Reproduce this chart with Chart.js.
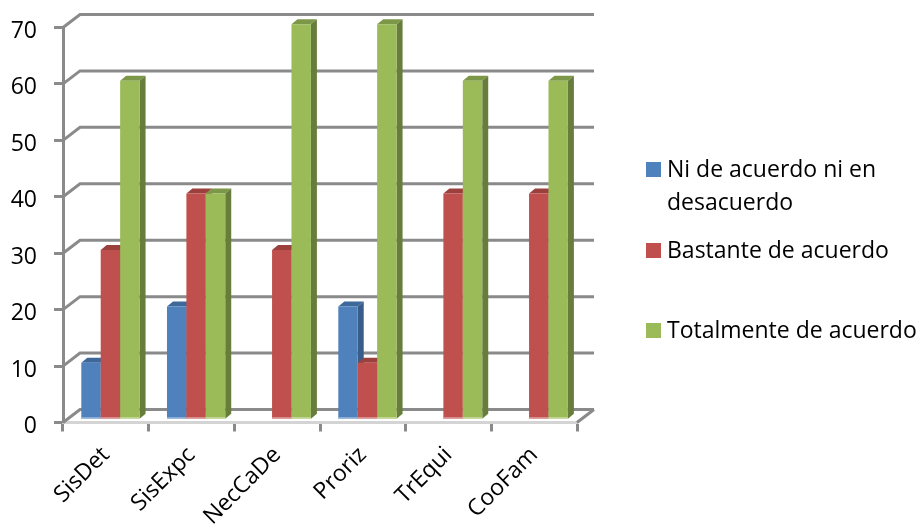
<!DOCTYPE html>
<html>
<head>
<meta charset="utf-8">
<title>Grado de acuerdo</title>
<script src="https://cdn.jsdelivr.net/npm/chart.js@4"></script>
<style>
  html, body { margin: 0; padding: 0; background: #fff; }
  canvas { display: block; }
</style>
</head>
<body>
<canvas id="container" width="923" height="525"></canvas>
<script>
const categories = ['SisDet', 'SisExpc', 'NecCaDe', 'Proriz', 'TrEqui', 'CooFam'];
const niDeAcuerdo = [10, 20, 0, 20, 0, 0];
const bastante = [30, 40, 30, 10, 40, 40];
const totalmente = [60, 40, 70, 70, 60, 60];
const yTicks = [0, 10, 20, 30, 40, 50, 60, 70];

const seriesNames = ['Ni de acuerdo ni en desacuerdo', 'Bastante de acuerdo', 'Totalmente de acuerdo'];
const legendLines = [['Ni de acuerdo ni en', 'desacuerdo'], ['Bastante de acuerdo'], ['Totalmente de acuerdo']];
const legendRows = [169.5, 250.5, 330.5];

const frontColors = ['#4f81bd', '#c0504d', '#9bbb59'];
const topColors = ['#3f689a', '#9c403e', '#7d9748'];
const sideColors = ['#385d8a', '#8c3a38', '#677d3b'];
const footColors = ['#a5c0e0', '#e2a9a7', '#cfdfa8'];

const FONT = '"Open Sans", sans-serif';
const GRID = '#8a8a8a';
// depth of the walls and of the bars, in pixels
const WALL_DX = 17, WALL_DY = 13;
const BAR_DX = 6, BAR_DY = 5;
// bars stand a little behind the front edge of the floor
const BAR_SHIFT_X = 4.6, BAR_SHIFT_Y = -3.2;

function polygon(ctx, pts, color) {
  ctx.fillStyle = color;
  ctx.beginPath();
  pts.forEach((p, i) => i ? ctx.lineTo(p[0], p[1]) : ctx.moveTo(p[0], p[1]));
  ctx.closePath();
  ctx.fill();
}

function drawSeries3d(chart, i) {
  const { ctx } = chart;
  const meta = chart.getDatasetMeta(i);
  const standing = meta.data.filter(bar => Math.abs(bar.base - bar.y) >= 1);
  standing.forEach(bar => {
    const l = bar.x - bar.width / 2, r = bar.x + bar.width / 2;
    polygon(ctx, [[l, bar.y], [r, bar.y], [r + BAR_DX, bar.y - BAR_DY], [l + BAR_DX, bar.y - BAR_DY]], topColors[i]);
    polygon(ctx, [[r, bar.y], [r + BAR_DX, bar.y - BAR_DY], [r + BAR_DX, bar.base - BAR_DY], [r, bar.base]], sideColors[i]);
  });
  meta.controller.draw();
  ctx.fillStyle = footColors[i];
  standing.forEach(bar => ctx.fillRect(bar.x - bar.width / 2, bar.base - 1.5, bar.width, 1.5));
}

const walls = {
  id: 'walls',
  beforeDatasetsDraw(chart) {
    const { ctx, chartArea: a, scales: { y } } = chart;
    ctx.save();
    ctx.lineWidth = 3;
    ctx.strokeStyle = GRID;
    yTicks.forEach(v => {
      const py = y.getPixelForValue(v);
      ctx.beginPath();
      ctx.moveTo(a.left, py);
      ctx.lineTo(a.left + WALL_DX, py - WALL_DY);
      ctx.lineTo(a.right + WALL_DX, py - WALL_DY);
      ctx.stroke();
    });
    // right edge of the floor
    ctx.beginPath();
    ctx.moveTo(a.right, a.bottom);
    ctx.lineTo(a.right + WALL_DX, a.bottom - WALL_DY);
    ctx.stroke();
    ctx.restore();

    // series paint left to right, each one over the side face of the one before
    ctx.save();
    ctx.translate(BAR_SHIFT_X, BAR_SHIFT_Y);
    chart.data.datasets.forEach((d, i) => drawSeries3d(chart, i));
    ctx.restore();
  },
  beforeDatasetDraw() {
    return false;
  }
};

const sideLegend = {
  id: 'sideLegend',
  afterDraw(chart) {
    const { ctx } = chart;
    ctx.save();
    ctx.font = '23px ' + FONT;
    ctx.textBaseline = 'middle';
    ctx.textAlign = 'left';
    legendLines.forEach((lines, i) => {
      const rowY = legendRows[i];
      ctx.fillStyle = frontColors[i];
      ctx.fillRect(646, rowY - 7.5, 15, 15);
      ctx.fillStyle = '#000';
      lines.forEach((line, j) => ctx.fillText(line, 667, rowY + 1 + j * 33));
    });
    ctx.restore();
  }
};

const values = [niDeAcuerdo, bastante, totalmente];

new Chart('container', {
  type: 'bar',
  data: {
    labels: categories,
    datasets: values.map((v, i) => ({
      label: seriesNames[i],
      data: v,
      backgroundColor: frontColors[i]
    }))
  },
  plugins: [walls, sideLegend],
  options: {
    responsive: false,
    animation: false,
    layout: { padding: { top: 27.5, right: 346, bottom: 0, left: 0 } },
    datasets: { bar: { categoryPercentage: 0.68, barPercentage: 1 } },
    plugins: { legend: { display: false }, title: { display: false }, tooltip: { enabled: false } },
    scales: {
      x: {
        afterFit(scale) {
          scale.height = 102.5;
          scale.paddingLeft = 0;
          scale.paddingRight = 0;
        },
        grid: { drawOnChartArea: false, tickColor: GRID, tickWidth: 3, tickLength: 9 },
        border: { color: '#d4d4d4', width: 3 },
        ticks: {
          color: '#000',
          font: { family: FONT, size: 23 },
          minRotation: 45,
          maxRotation: 45,
          padding: 10
        }
      },
      y: {
        min: 0,
        max: 70,
        afterFit(scale) {
          scale.width = 63;
          scale.paddingTop = 0;
          scale.paddingBottom = 0;
        },
        afterBuildTicks(scale) { scale.ticks = yTicks.map(value => ({ value })); },
        grid: { drawOnChartArea: false, tickColor: GRID, tickWidth: 3, tickLength: 9 },
        border: { color: GRID, width: 3 },
        ticks: {
          color: '#000',
          font: { family: FONT, size: 23 },
          padding: 17,
          labelOffset: 4
        }
      }
    }
  }
});
</script>
</body>
</html>
